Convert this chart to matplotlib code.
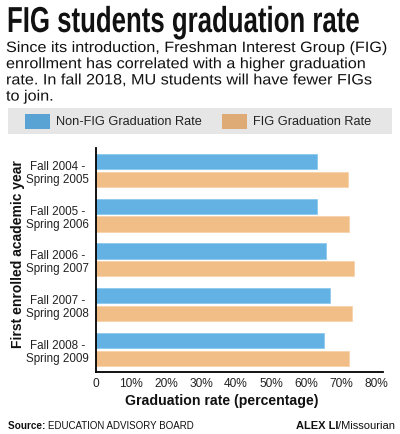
import matplotlib
matplotlib.use("Agg")
import matplotlib.pyplot as plt
import matplotlib.patches as mpatches
from matplotlib.patheffects import AbstractPathEffect
from matplotlib.transforms import Affine2D
import numpy as np

# ── Data ──────────────────────────────────────────────────────────────────────
years = ["Fall 2004 -\nSpring 2005", "Fall 2005 -\nSpring 2006",
         "Fall 2006 -\nSpring 2007", "Fall 2007 -\nSpring 2008",
         "Fall 2008 -\nSpring 2009"]
non_fig = [63.0, 63.0, 65.7, 66.8, 65.1]
fig_rate = [72.0, 72.4, 73.7, 73.1, 72.2]
xticks = [0, 10, 20, 30, 40, 50, 60, 70, 80]
xtick_labels = ["0", "10%", "20%", "30%", "40%", "50%", "60%", "70%", "80%"]

BLUE = "#63b2e3"
ORANGE = "#f2be87"
BLUE_SW = "#58a3d3"
ORANGE_SW = "#deab76"
INK = "#111111"

W, H = 400, 435
fig = plt.figure(figsize=(W / 100, H / 100), dpi=100)
fig.patch.set_facecolor("white")
renderer = fig.canvas.get_renderer()


def fx(px):
    return px / W


def fy(py):
    return 1 - py / H


class Scale(AbstractPathEffect):
    """Scale glyphs around a display point (fakes a condensed/wide face)."""
    def __init__(self, sx, sy, x0, y0):
        super().__init__()
        self.sx, self.sy, self.x0, self.y0 = sx, sy, x0, y0

    def draw_path(self, renderer, gc, tpath, affine, rgbFace=None):
        t = (affine + Affine2D().translate(-self.x0, -self.y0)
             .scale(self.sx, self.sy).translate(self.x0, self.y0))
        renderer.draw_path(gc, tpath, t, rgbFace)


def fit(txt, x0, y0, target_w, sy=1.0):
    w = txt.get_window_extent(renderer).width
    txt.set_path_effects([Scale(target_w / w, sy, x0, H - y0)])


# ── Title & intro ─────────────────────────────────────────────────────────────
# condensed heavy headline: smaller face stretched up, squeezed to width
title = fig.text(fx(7), fy(33), "FIG students graduation rate",
                 family="Liberation Sans", weight="bold", fontsize=19,
                 va="baseline", ha="left", color=INK)
fit(title, 7, 33, 353, sy=26 / 19)

intro = fig.text(fx(6), fy(42),
                 "Since its introduction, Freshman Interest Group (FIG)\n"
                 "enrollment has correlated with a higher graduation\n"
                 "rate. In fall 2018, MU students will have fewer FIGs\n"
                 "to join.",
                 family="Liberation Sans", fontsize=10.8, linespacing=1.2,
                 va="top", ha="left", color=INK)
fit(intro, 6, 42, 382)

# ── Legend band ───────────────────────────────────────────────────────────────
fig.patches.append(mpatches.Rectangle((fx(8), fy(135)), fx(392) - fx(8),
                                      fy(109) - fy(135), transform=fig.transFigure,
                                      facecolor="#e6e6e6", edgecolor="none"))
for x0, col, lab in [(25, BLUE_SW, "Non-FIG Graduation Rate"),
                     (222, ORANGE_SW, "FIG Graduation Rate")]:
    fig.patches.append(mpatches.Rectangle((fx(x0), fy(130)), fx(25), fy(115) - fy(130),
                                          transform=fig.transFigure,
                                          facecolor=col, edgecolor="none"))
    fig.text(fx(x0 + 31), fy(122.5), lab, family="Liberation Sans",
             fontsize=9.2, va="center", ha="left", color="#222222")

# ── Bars ──────────────────────────────────────────────────────────────────────
ax = fig.add_axes([fx(96), fy(372.7), fx(383) - fx(96), fy(149) - fy(372.7)])
y = np.arange(len(years))
bh = 0.34
ax.barh(y - 0.2, non_fig, height=bh, color=BLUE, edgecolor="#8ccaee", linewidth=0.6)
ax.barh(y + 0.2, fig_rate, height=bh, color=ORANGE, edgecolor="#f7d3ab", linewidth=0.6)
ax.set_ylim(len(years) - 0.5, -0.5)
ax.set_xlim(0, 82)

for s in ["top", "right"]:
    ax.spines[s].set_visible(False)
ax.spines["left"].set_linewidth(1.3)
ax.spines["bottom"].set_linewidth(1.3)
ax.tick_params(axis="both", length=0)
ax.set_yticks(y)
ax.set_yticklabels(years, family="Liberation Sans", fontsize=8.4,
                   linespacing=1.1, color="#222222", multialignment="center")
ax.tick_params(axis="y", pad=5)
ax.set_xticks(xticks)
ax.set_xticklabels(xtick_labels, family="Liberation Sans", fontsize=8.6,
                   color="#222222")
ax.tick_params(axis="x", pad=4)

fig.text(fx(222), fy(401), "Graduation rate (percentage)",
         family="Liberation Sans", weight="bold", fontsize=10.2,
         ha="center", va="center", color=INK)
fig.text(fx(18), fy(254), "First enrolled academic year",
         family="Liberation Sans", weight="bold", fontsize=10,
         rotation=90, ha="center", va="center", color=INK)

# ── Source & credit ───────────────────────────────────────────────────────────
src = fig.text(fx(8), fy(426), "Source: ", family="Liberation Sans", weight="bold",
               fontsize=7.2, ha="left", va="center", color=INK)
bb = src.get_window_extent(renderer)
fig.text(bb.x1 / W, fy(426), "EDUCATION ADVISORY BOARD", family="Liberation Sans",
         fontsize=7.0, ha="left", va="center", color=INK)

cred = fig.text(fx(395), fy(426), "/Missourian", family="Liberation Sans",
                fontsize=8.0, ha="right", va="center", color=INK)
bb = cred.get_window_extent(renderer)
fig.text(bb.x0 / W, fy(426), "ALEX LI", family="Liberation Sans", weight="bold",
         fontsize=8.0, ha="right", va="center", color=INK)

fig.savefig("out.png", dpi=100, facecolor="white")
